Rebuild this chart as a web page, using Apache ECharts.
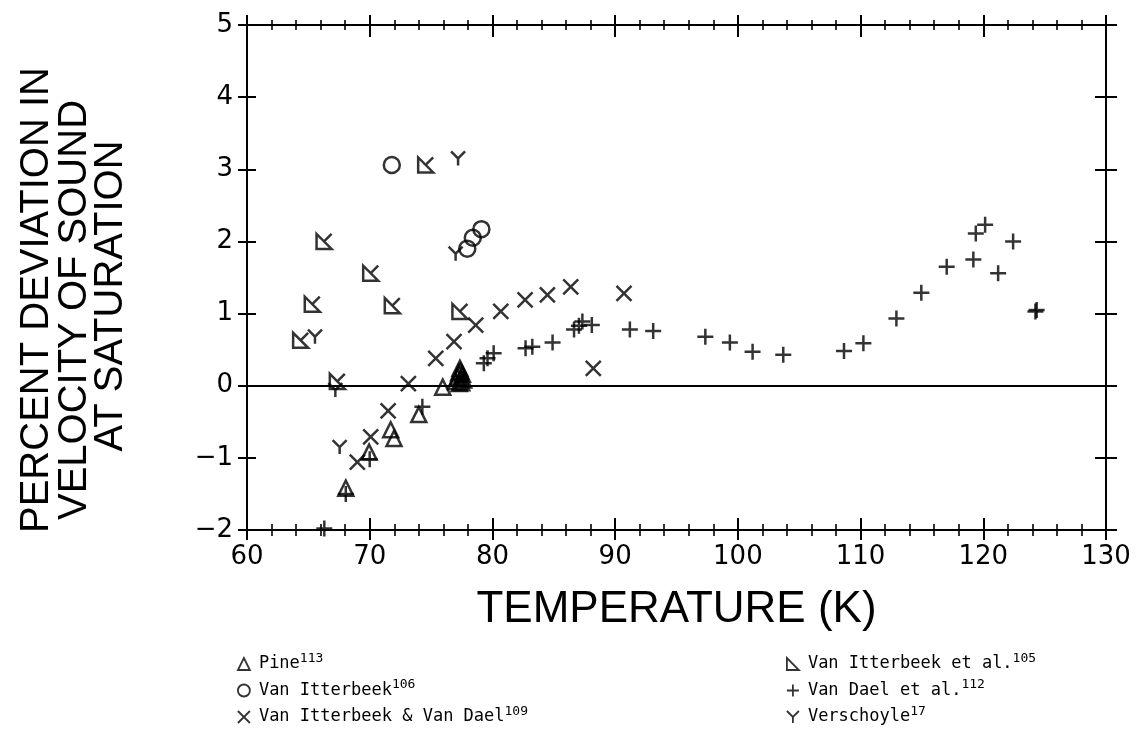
<!DOCTYPE html>
<html>
<head>
<meta charset="utf-8">
<script src="https://cdn.jsdelivr.net/npm/echarts@6/dist/echarts.min.js"></script>
<style>
  html, body { margin: 0; padding: 0; background: #fff; }
  #chart { width: 1139px; height: 751px; }
</style>
</head>
<body>
<div id="chart"></div>
<script>
// Deviation of measured sound velocities in saturated liquid from the reference equation
// Each point: [temperature (K), percent deviation]

const pine = [
  [68.05, -1.42], [69.95, -0.92], [71.71, -0.61], [71.98, -0.73], [74.0, -0.40], [75.95, -0.02],
  [77.0, 0.06], [77.15, 0.12], [77.25, 0.18], [77.35, 0.24], [77.45, 0.10], [77.5, 0.04],
  [77.55, 0.16], [77.65, 0.08], [77.3, 0.03], [77.4, 0.20]
];

const vanItterbeek106 = [
  [71.8, 3.06], [77.95, 1.90], [78.4, 2.05], [79.1, 2.17]
];

const vanItterbeekVanDael109 = [
  [68.99, -1.06], [70.08, -0.71], [71.5, -0.35], [73.15, 0.03], [75.38, 0.38], [76.87, 0.61],
  [78.64, 0.84], [80.68, 1.03], [82.66, 1.19], [84.48, 1.26], [86.38, 1.37], [88.22, 0.24],
  [90.72, 1.28]
];

const vanItterbeekEtAl105 = [
  [64.37, 0.63], [65.32, 1.13], [66.28, 2.0], [67.36, 0.06], [70.08, 1.56], [71.84, 1.11],
  [74.56, 3.06], [77.35, 1.03]
];

const vanDaelEtAl112 = [
  [66.3, -1.98], [68.05, -1.5], [70.0, -1.02], [74.29, -0.29], [79.3, 0.31], [79.6, 0.38],
  [80.1, 0.45], [82.7, 0.52], [83.25, 0.54], [84.9, 0.60], [86.65, 0.78], [87.05, 0.83],
  [87.33, 0.89], [88.1, 0.84], [91.2, 0.78], [93.1, 0.76], [97.35, 0.68], [99.35, 0.60],
  [101.2, 0.47], [103.7, 0.43], [108.65, 0.48], [110.23, 0.59], [112.92, 0.93], [114.95, 1.29],
  [117.02, 1.65], [119.19, 1.75], [119.39, 2.11], [120.15, 2.23], [121.21, 1.56], [122.43, 2.0],
  [124.25, 1.03], [124.35, 1.05]
];

const verschoyle17 = [
  [65.54, 0.68], [67.2, -0.06], [67.55, -0.85], [77.0, 1.83], [77.2, 3.15]
];

// Series names and their reference numbers (drawn as superscripts)
const seriesNames = [
  'Pine', 'Van Itterbeek', 'Van Itterbeek & Van Dael',
  'Van Itterbeek et al.', 'Van Dael et al.', 'Verschoyle'
];
const refNumbers = ['113', '106', '109', '105', '112', '17'];

// Axis ranges
const xRange = { min: 60, max: 130, step: 10 };
const yRange = { min: -2, max: 5, step: 1 };

const xTitle = 'TEMPERATURE (K)';
const yTitleLines = ['PERCENT DEVIATION IN', 'VELOCITY OF SOUND', 'AT SATURATION'];

// Outline marker shapes
const SYM = {
  triangle: 'path://M5,0 L10,10 L0,10 Z',
  cross: 'path://M0,0 L10,10 M10,0 L0,10',
  plus: 'path://M5,0 L5,10 M0,5 L10,5',
  wye: 'path://M0,0 L5,5 L10,0 M5,5 L5,10',
  rightTriK: 'path://M0,0 L0,10 L10,10 Z M10,0 L5,5',
  rightTri: 'path://M0,0 L0,10 L10,10 Z',
  circle: 'circle'
};

const INK = '#000';
const AXIS_FONT = 'DejaVu Sans';

const chart = echarts.init(document.getElementById('chart'));

function xAxisDef(position, inside, showLabel, len, minorLen) {
  return {
    type: 'value', position: position,
    min: xRange.min, max: xRange.max, interval: xRange.step,
    axisLine: { show: true, onZero: false, lineStyle: { color: INK, width: 2 } },
    axisTick: { show: true, inside: inside, length: len, lineStyle: { color: INK, width: 2 } },
    minorTick: { show: true, splitNumber: 5, length: minorLen, lineStyle: { color: INK, width: 1.6 } },
    splitLine: { show: false },
    minorSplitLine: { show: false },
    axisLabel: {
      show: showLabel, margin: 14, color: INK,
      fontFamily: AXIS_FONT, fontSize: 26
    },
    name: showLabel ? xTitle : '',
    nameLocation: 'middle', nameGap: 58,
    nameTextStyle: { fontFamily: 'Liberation Sans', fontSize: 44, color: INK }
  };
}

function yAxisDef(position, inside, showLabel, len) {
  return {
    type: 'value', position: position,
    min: yRange.min, max: yRange.max, interval: yRange.step,
    axisLine: { show: true, onZero: false, lineStyle: { color: INK, width: 2 } },
    axisTick: { show: true, inside: inside, length: len, lineStyle: { color: INK, width: 2 } },
    splitLine: { show: false },
    axisLabel: {
      show: showLabel, margin: 14, color: INK,
      fontFamily: AXIS_FONT, fontSize: 26,
      formatter: v => (v < 0 ? '\u2212' + Math.abs(v) : String(v))
    }
  };
}

function scatter(name, data, symbol, size) {
  return {
    type: 'scatter', name: name, data: data,
    xAxisIndex: 0, yAxisIndex: 0,
    symbol: symbol, symbolSize: size,
    itemStyle: { color: 'rgba(0,0,0,0)', borderColor: INK, borderWidth: 2.5 },
    emphasis: { disabled: true },
    z: 3
  };
}

const series = [
  scatter(seriesNames[0], pine, SYM.triangle, 15),
  scatter(seriesNames[1], vanItterbeek106, SYM.circle, 16),
  scatter(seriesNames[2], vanItterbeekVanDael109, SYM.cross, 15),
  scatter(seriesNames[3], vanItterbeekEtAl105, SYM.rightTriK, 15),
  scatter(seriesNames[4], vanDaelEtAl112, SYM.plus, 16),
  scatter(seriesNames[5], verschoyle17, SYM.wye, 14)
];

// zero reference line
series[0].markLine = {
  silent: true, symbol: 'none', animation: false,
  label: { show: false },
  lineStyle: { color: INK, width: 1.8, type: 'solid' },
  data: [{ yAxis: 0 }]
};

const legendIcons = [SYM.triangle, SYM.circle, SYM.cross, SYM.rightTri, SYM.plus, SYM.wye];

function legendDef(indices, left) {
  return {
    orient: 'vertical', left: left, top: 647,
    itemWidth: 12, itemHeight: 12, itemGap: 6,
    selectedMode: false,
    itemStyle: { borderWidth: 1.8 },
    data: indices.map(i => ({ name: seriesNames[i], icon: legendIcons[i] })),
    formatter: name => {
      const i = seriesNames.indexOf(name);
      return '{n|' + name + '}{s|' + refNumbers[i] + '}';
    },
    textStyle: {
      color: INK,
      rich: {
        n: { fontFamily: 'DejaVu Sans Mono', fontSize: 17, lineHeight: 24, padding: [0, 0, 0, 4], color: INK },
        s: { fontFamily: 'DejaVu Sans Mono', fontSize: 13, lineHeight: 14, verticalAlign: 'top', color: INK }
      }
    }
  };
}

const titleFont = '40px "Liberation Sans"';
const yTitleX = [37, 75, 111];
const yTitleY = [300, 310, 296];

chart.setOption({
  animation: false,
  backgroundColor: '#fff',
  grid: { left: 247, right: 33, top: 25, bottom: 221, containLabel: false },
  xAxis: [
    xAxisDef('bottom', false, true, 10, 6),
    xAxisDef('bottom', true, false, 12, 6),
    xAxisDef('top', false, false, 10, 5),
    xAxisDef('top', true, false, 12, 5)
  ],
  yAxis: [
    yAxisDef('left', false, true, 9),
    yAxisDef('left', true, false, 9),
    yAxisDef('right', false, false, 11),
    yAxisDef('right', true, false, 11)
  ],
  legend: [legendDef([0, 1, 2], 232), legendDef([3, 4, 5], 781)],
  graphic: yTitleLines.map((t, i) => ({
    type: 'text', x: yTitleX[i], y: yTitleY[i], rotation: Math.PI / 2,
    style: { text: t, font: titleFont, fill: INK, align: 'center', verticalAlign: 'middle' }
  })),
  series: series
});
</script>
</body>
</html>
